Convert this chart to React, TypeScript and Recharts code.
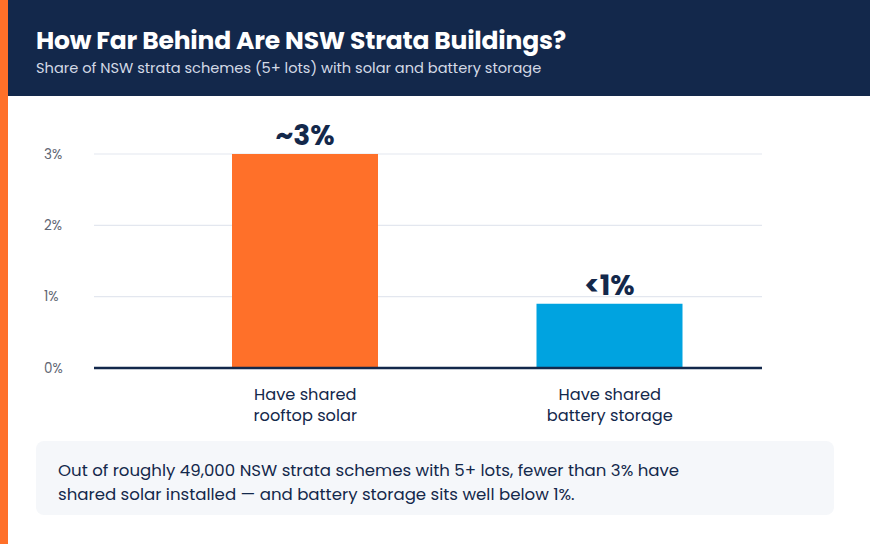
import React from "react";
import { BarChart, Bar, XAxis, YAxis, CartesianGrid, Cell, LabelList } from "recharts";

const categories = ["Have shared\nrooftop solar", "Have shared\nbattery storage"];
const values = [3.0, 0.9];
const valueLabels = ["~3%", "<1%"];
const barColors = ["#FF7029", "#00A3E0"];
const yTicks = [0, 1, 2, 3];
const yTickLabels = ["0%", "1%", "2%", "3%"];

const data = categories.map((c, i) => ({ name: c, value: values[i], label: valueLabels[i] }));

const NAVY = "#13284B";
const FONT = "Poppins, 'Noto Sans', 'Open Sans', sans-serif";

const YTick = (props: any) => {
  const idx = yTicks.indexOf(props.payload.value);
  return (
    <text x={44} y={props.y} dominantBaseline="central" textAnchor="start" fill="#5f6673" fontSize={13.5} fontFamily={FONT}>
      {yTickLabels[idx]}
    </text>
  );
};

const XTick = (props: any) => {
  const lines = String(props.payload.value).split("\n");
  return (
    <text x={props.x} y={props.y} textAnchor="middle" fill={NAVY} fontSize={16.2} fontFamily={FONT}>
      {lines.map((l, i) => (
        <tspan key={i} x={props.x} dy={i === 0 ? 24 : 21}>{l}</tspan>
      ))}
    </text>
  );
};

export default function App() {
  return (
    <div style={{ position: "absolute", left: 0, top: 0, width: 870, height: 544, background: "#fff", overflow: "hidden", fontFamily: FONT }}>
      <div style={{ position: "absolute", left: 0, top: 0, width: 8, height: 544, background: "#FF7029" }} />
      <div style={{ position: "absolute", left: 8, top: 0, width: 862, height: 96, background: NAVY }}>
        <div style={{ position: "absolute", left: 28, top: 22, color: "#fff", fontSize: 25, fontWeight: 700, whiteSpace: "nowrap", letterSpacing: -0.2 }}>
          How Far Behind Are NSW Strata Buildings?
        </div>
        <div style={{ position: "absolute", left: 28, top: 58, color: "#D3DAE6", fontSize: 14.6, whiteSpace: "nowrap" }}>
          Share of NSW strata schemes (5+ lots) with solar and battery storage
        </div>
      </div>
      <div style={{ position: "absolute", left: 0, top: 96 }}>
        <BarChart width={870} height={340} data={data} margin={{ top: 58, right: 108, left: 0, bottom: 0 }}>
          <CartesianGrid vertical={false} stroke="#E3E7EF" strokeWidth={1.2} />
          <YAxis domain={[0, 3]} ticks={yTicks} width={94} axisLine={false} tickLine={false} tick={<YTick />} interval={0} />
          <XAxis dataKey="name" height={68} padding={{ left: 59, right: 0 }} axisLine={{ stroke: NAVY, strokeWidth: 2.5 }} tickLine={false} tick={<XTick />} interval={0} />
          <Bar dataKey="value" barSize={146} isAnimationActive={false}>
            {data.map((d, i) => (
              <Cell key={i} fill={barColors[i]} />
            ))}
            <LabelList dataKey="label" position="top" offset={9} fill={NAVY} fontSize={28} fontWeight={700} fontFamily={FONT} />
          </Bar>
        </BarChart>
      </div>
      <div style={{ position: "absolute", left: 36, top: 441, width: 798, height: 74, background: "#F5F7FA", borderRadius: 8 }}>
        <div style={{ position: "absolute", left: 22, top: 18, color: NAVY, fontSize: 16.6, lineHeight: "24px", width: 700 }}>
          Out of roughly 49,000 NSW strata schemes with 5+ lots, fewer than 3% have<br />
          shared solar installed — and battery storage sits well below 1%.
        </div>
      </div>
    </div>
  );
}
